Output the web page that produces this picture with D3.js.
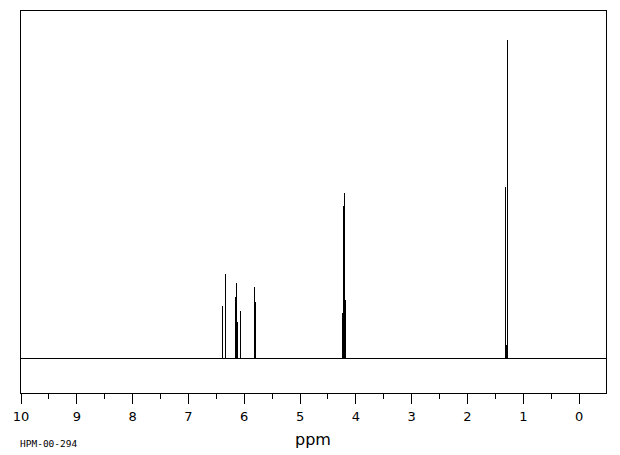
<!DOCTYPE html>
<html>
<head>
<meta charset="utf-8">
<script src="https://cdn.jsdelivr.net/npm/d3@7"></script>
<style>
  body { margin: 0; background: #fff; }
  svg { display: block; }
</style>
</head>
<body>
<svg width="620" height="455"></svg>
<script>
// pics (ppm) et intensites relatives
var peakPpm = [6.39, 6.34, 6.33, 6.165, 6.14, 6.13, 6.12, 6.075, 5.82, 5.81, 5.79,
               4.24, 4.23, 4.22, 4.20, 4.18, 1.327, 1.30, 1.286, 1.274];
var peakInt = [16.4, 26.4, 1.7, 19.2, 2.5, 23.6, 11.4, 14.8, 22.3, 0.9, 17.6,
               14.2, 47.9, 3.6, 52.1, 18.5, 53.9, 4.1, 100, 47.2];
var majorTicks = [10, 9, 8, 7, 6, 5, 4, 3, 2, 1, 0];
var minorTicks = [9.5, 8.5, 7.5, 6.5, 5.5, 4.5, 3.5, 2.5, 1.5, 0.5];
var xLabel = "ppm";
var sampleId = "HPM-00-294";

var svg = d3.select("svg");

var x = d3.scaleLinear().domain([10, -0.5]).range([20.5, 606.5]);
var y = d3.scaleLinear().domain([0, 100]).range([358.5, 40]);

// cadre
svg.append("rect").attr("x", 20.5).attr("y", 10.5)
  .attr("width", 586).attr("height", 383)
  .attr("fill", "none").attr("stroke", "black").attr("stroke-width", 1);

// spectre : ligne de base + batons
var peaks = peakPpm.map(function (p, i) { return { ppm: p, v: peakInt[i] }; })
  .sort(function (a, b) { return b.ppm - a.ppm; });

var path = d3.path();
path.moveTo(x(10), y(0));
peaks.forEach(function (d) {
  var px = Math.round(x(d.ppm)) + 0.5;
  path.lineTo(px, y(0));
  path.lineTo(px, y(d.v));
  path.lineTo(px, y(0));
});
path.lineTo(x(-0.5), y(0));

svg.append("path").attr("d", path.toString())
  .attr("fill", "none").attr("stroke", "black").attr("stroke-width", 1)
  .attr("shape-rendering", "crispEdges");

// axe du bas
var axisMinor = d3.axisBottom(x).tickValues(minorTicks).tickSize(5).tickFormat("");
var axisMajor = d3.axisBottom(x).tickValues(majorTicks).tickSize(10).tickFormat(d3.format("d"));

var gMinor = svg.append("g").attr("transform", "translate(0,393.5)").call(axisMinor);
var gMajor = svg.append("g").attr("transform", "translate(0,393.5)").call(axisMajor);

[gMinor, gMajor].forEach(function (g) {
  g.select(".domain").remove();
  g.selectAll("line").attr("stroke", "black").attr("shape-rendering", "crispEdges");
});
gMajor.selectAll("text")
  .attr("y", 27).attr("dy", 0)
  .attr("fill", "black")
  .style("font-family", "DejaVu Sans")
  .style("font-size", "13px");

svg.append("text").attr("x", 313).attr("y", 445)
  .attr("text-anchor", "middle")
  .style("font-family", "DejaVu Sans").style("font-size", "16px")
  .text(xLabel);

svg.append("text").attr("x", 20).attr("y", 447)
  .style("font-family", "DejaVu Sans Mono").style("font-size", "9.5px")
  .text(sampleId);
</script>
</body>
</html>
